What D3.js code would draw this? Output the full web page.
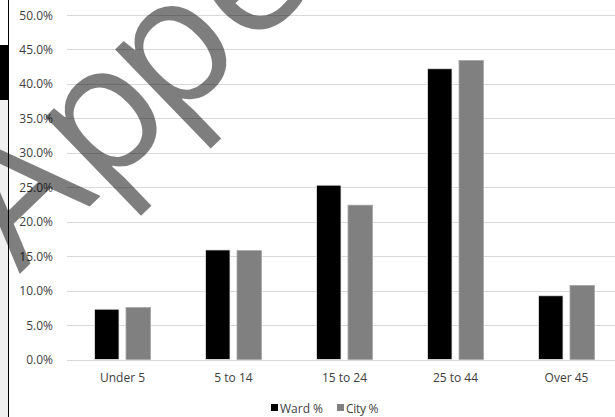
<!DOCTYPE html>
<html>
<head>
<meta charset="utf-8">
<script src="https://cdn.jsdelivr.net/npm/d3@7"></script>
<style>
  html, body { margin: 0; padding: 0; background: #fff; }
  svg { display: block; }
  text { font-family: "Open Sans", sans-serif; }
</style>
</head>
<body>
<svg id="chart" width="615" height="417"></svg>
<script>
const categories = ["Under 5", "5 to 14", "15 to 24", "25 to 44", "Over 45"];
const seriesNames = ["Ward %", "City %"];
const wardValues = [0.073, 0.159, 0.253, 0.422, 0.0925];
const cityValues = [0.0755, 0.158, 0.224, 0.434, 0.1075];
const yTicks = [0, 0.05, 0.10, 0.15, 0.20, 0.25, 0.30, 0.35, 0.40, 0.45, 0.50];
const seriesColors = ["#000000", "#808080"];
const watermarkText = "Appendix";

const svg = d3.select("#chart");
const W = 615, H = 417;

svg.append("rect").attr("x", 0).attr("y", 45).attr("width", 8).attr("height", 55).attr("fill", "#000");
svg.append("rect").attr("x", 0).attr("y", 100).attr("width", 8).attr("height", H - 100).attr("fill", "#f0f0f0");
svg.append("line").attr("x1", 8.5).attr("x2", 8.5).attr("y1", 0).attr("y2", H).attr("stroke", "#000").attr("stroke-width", 1);

const x0 = d3.scaleBand().domain(categories).range([67, 622]).paddingInner(0).paddingOuter(0);
const step = x0.step();
const x1 = d3.scaleBand().domain(seriesNames).range([(step - 56) / 2, (step + 56) / 2]).paddingInner(0.222).paddingOuter(0);
const y = d3.scaleLinear().domain([0, 0.5]).range([359.5, 15]);

svg.append("g").selectAll("line").data(yTicks).join("line")
  .attr("x1", 67).attr("x2", W)
  .attr("y1", d => Math.round(y(d)) + 0.5).attr("y2", d => Math.round(y(d)) + 0.5)
  .attr("stroke", "#d9d9d9").attr("stroke-width", 1);

const fmt = d3.format(".1%");
svg.append("g").selectAll("text").data(yTicks).join("text")
  .attr("x", 53).attr("y", d => y(d))
  .attr("text-anchor", "end").attr("dominant-baseline", "central")
  .attr("font-size", 12).attr("fill", "#404040")
  .text(d => fmt(d));

const rows = categories.map((c, i) => ({ cat: c, vals: [wardValues[i], cityValues[i]] }));
const groups = svg.append("g").selectAll("g").data(rows).join("g")
  .attr("transform", d => `translate(${x0(d.cat)},0)`);
groups.selectAll("rect").data(d => d.vals.map((v, j) => ({ name: seriesNames[j], v, j })))
  .join("rect")
  .attr("x", d => x1(d.name))
  .attr("width", x1.bandwidth())
  .attr("y", d => y(d.v))
  .attr("height", d => y(0) - y(d.v))
  .attr("fill", d => seriesColors[d.j])
  .attr("stroke", d => d.j === 1 ? "#a6a6a6" : "#e8e8e8")
  .attr("stroke-width", 0.8);

svg.append("line").attr("x1", 67).attr("x2", W)
  .attr("y1", Math.round(y(0)) + 0.5).attr("y2", Math.round(y(0)) + 0.5)
  .attr("stroke", "#d9d9d9").attr("stroke-width", 1);

svg.append("g").selectAll("text").data(categories).join("text")
  .attr("x", d => x0(d) + step / 2).attr("y", 377)
  .attr("text-anchor", "middle").attr("dominant-baseline", "central")
  .attr("font-size", 12).attr("fill", "#404040")
  .text(d => d);

const legend = svg.append("g");
const legendItems = [{ name: seriesNames[0], x: 271 }, { name: seriesNames[1], x: 337 }];
legendItems.forEach((it, i) => {
  legend.append("rect").attr("x", it.x).attr("y", 404).attr("width", 7).attr("height", 7).attr("fill", seriesColors[i]);
  legend.append("text").attr("x", it.x + 9).attr("y", 408)
    .attr("dominant-baseline", "central").attr("font-size", 12).attr("fill", "#404040")
    .attr("letter-spacing", i === 1 ? -0.3 : 0)
    .text(it.name);
});

// watermark
const wmSize = 178, wmWeight = 500, wmAngle = -44;
const rad = wmAngle * Math.PI / 180;
const u = [Math.cos(rad), Math.sin(rad)], v = [-Math.sin(rad), Math.cos(rad)];
const wm = svg.append("text")
  .attr("font-size", wmSize).attr("font-weight", wmWeight)
  .attr("fill", "#000").attr("opacity", 0.5)
  .attr("dx", "0 0 -12")
  .text(watermarkText);
const advA = wm.node().getSubStringLength(0, 1);
const X1 = advA + 0.13 * wmSize;
const Y1 = -0.56 * wmSize;
const target = [48, 108];
const O = [target[0] - X1 * u[0] - Y1 * v[0], target[1] - X1 * u[1] - Y1 * v[1]];
wm.attr("transform", `translate(${O[0]},${O[1]}) rotate(${wmAngle})`);
</script>
</body>
</html>
